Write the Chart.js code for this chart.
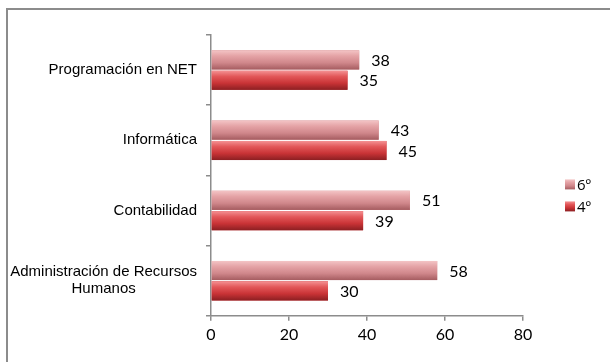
<!DOCTYPE html>
<html>
<head>
<meta charset="utf-8">
<script src="https://cdn.jsdelivr.net/npm/chart.js@4.4.1/dist/chart.umd.min.js"></script>
<style>
  html, body { margin: 0; padding: 0; background: #fff; }
  #wrap { position: relative; width: 610px; height: 362px; overflow: hidden; }
  #frame { position: absolute; left: 6px; top: 8px; width: 700px; height: 500px;
           border-left: 2px solid #8c8c8c; border-top: 2px solid #8c8c8c; }
  #chart { position: absolute; left: 0; top: 0; }
</style>
</head>
<body>
<div id="wrap">
  <div id="frame"></div>
  <canvas id="chart" width="610" height="362"></canvas>
</div>
<script>
// categories, top to bottom
const categories = [
  'Programación en NET',
  'Informática',
  'Contabilidad',
  ['Administración de Recursos', 'Humanos']
];
const sexto = [38, 43, 51, 58];   // 6º
const cuarto = [35, 45, 39, 30];  // 4º
const xTicks = [0, 20, 40, 60, 80];

// gradient stops for the "cylinder" look of each series
const shades = [
  ['#f3c4c5', '#e4a2a5', '#d0878b', '#a55c60'],
  ['#f49193', '#e25759', '#c93336', '#8c1f22']
];

function shadeFill(ctx, di, top, h) {
  const s = shades[di];
  const g = ctx.createLinearGradient(0, top, 0, top + h);
  g.addColorStop(0, s[0]);
  g.addColorStop(0.3, s[1]);
  g.addColorStop(0.65, s[2]);
  g.addColorStop(1, s[3]);
  return g;
}

// paints the shaded fill over each bar
const barShading = {
  id: 'barShading',
  afterDatasetsDraw(chart) {
    const ctx = chart.ctx;
    chart.data.datasets.forEach((ds, di) => {
      chart.getDatasetMeta(di).data.forEach(bar => {
        const top = bar.y - bar.height / 2;
        ctx.save();
        ctx.fillStyle = shadeFill(ctx, di, top, bar.height);
        ctx.fillRect(bar.base, top, bar.x - bar.base, bar.height);
        ctx.restore();
      });
    });
  }
};

// value labels at the end of the bars
const valueLabels = {
  id: 'valueLabels',
  afterDatasetsDraw(chart) {
    const ctx = chart.ctx;
    ctx.save();
    ctx.font = '16px Lato';
    ctx.fillStyle = '#000';
    ctx.textAlign = 'left';
    ctx.textBaseline = 'middle';
    chart.data.datasets.forEach((ds, di) => {
      chart.getDatasetMeta(di).data.forEach((bar, i) => {
        ctx.fillText(ds.data[i], bar.x + 12, bar.y + 1);
      });
    });
    ctx.restore();
  }
};

// category labels: lines centred inside a right-aligned block
const categoryLabels = {
  id: 'categoryLabels',
  afterDraw(chart) {
    const ctx = chart.ctx;
    const y = chart.scales.y;
    const right = chart.chartArea.left - 14;
    ctx.save();
    ctx.font = '15px "Liberation Sans"';
    ctx.fillStyle = '#000';
    ctx.textBaseline = 'middle';
    ctx.textAlign = 'center';
    categories.forEach((cat, i) => {
      const lines = Array.isArray(cat) ? cat : [cat];
      const w = Math.max(...lines.map(l => ctx.measureText(l).width));
      const cx = right - w / 2;
      const cy = y.getPixelForValue(i);
      const lh = 17;
      lines.forEach((l, k) => {
        ctx.fillText(l, cx, cy + (k - (lines.length - 1) / 2) * lh);
      });
    });
    ctx.restore();
  }
};

// legend on the right, boxes next to the text
const sideLegend = {
  id: 'sideLegend',
  afterDraw(chart) {
    const ctx = chart.ctx;
    const area = chart.chartArea;
    const x = area.right + 42;
    const mid = (area.top + area.bottom) / 2 + 20;
    ctx.save();
    ctx.font = '15px "Open Sans"';
    ctx.textAlign = 'left';
    ctx.textBaseline = 'middle';
    chart.data.datasets.forEach((ds, di) => {
      const cy = mid + (di - 0.5) * 22;
      ctx.fillStyle = shadeFill(ctx, di, cy - 5, 10);
      ctx.fillRect(x, cy - 5, 10, 10);
      ctx.fillStyle = '#000';
      ctx.fillText(ds.label, x + 12, cy + 1);
    });
    ctx.restore();
  }
};

new Chart(document.getElementById('chart'), {
  type: 'bar',
  data: {
    labels: categories,
    datasets: [
      { label: '6º', data: sexto, backgroundColor: '#d0878b',
        categoryPercentage: 0.58, barPercentage: 0.94 },
      { label: '4º', data: cuarto, backgroundColor: '#c93336',
        categoryPercentage: 0.58, barPercentage: 0.94 }
    ]
  },
  options: {
    indexAxis: 'y',
    responsive: false,
    animation: false,
    layout: { padding: { left: 0, top: 35, right: 87, bottom: 14 } },
    scales: {
      x: {
        min: 0, max: 80,
        afterBuildTicks: scale => { scale.ticks = xTicks.map(v => ({ value: v })); },
        ticks: { font: { family: 'Lato', size: 16 }, color: '#000', padding: 4 },
        grid: { drawOnChartArea: false, tickLength: 5, color: '#8c8c8c', lineWidth: 1.5 },
        border: { color: '#8c8c8c', width: 1.5 }
      },
      y: {
        ticks: { display: false },
        afterFit: scale => { scale.width = 211; },
        grid: { drawOnChartArea: false, tickLength: 5, color: '#8c8c8c', lineWidth: 1.5 },
        border: { color: '#8c8c8c', width: 1.5 }
      }
    },
    plugins: {
      legend: { display: false },
      tooltip: { enabled: false }
    }
  },
  plugins: [barShading, valueLabels, categoryLabels, sideLegend]
});
</script>
</body>
</html>
